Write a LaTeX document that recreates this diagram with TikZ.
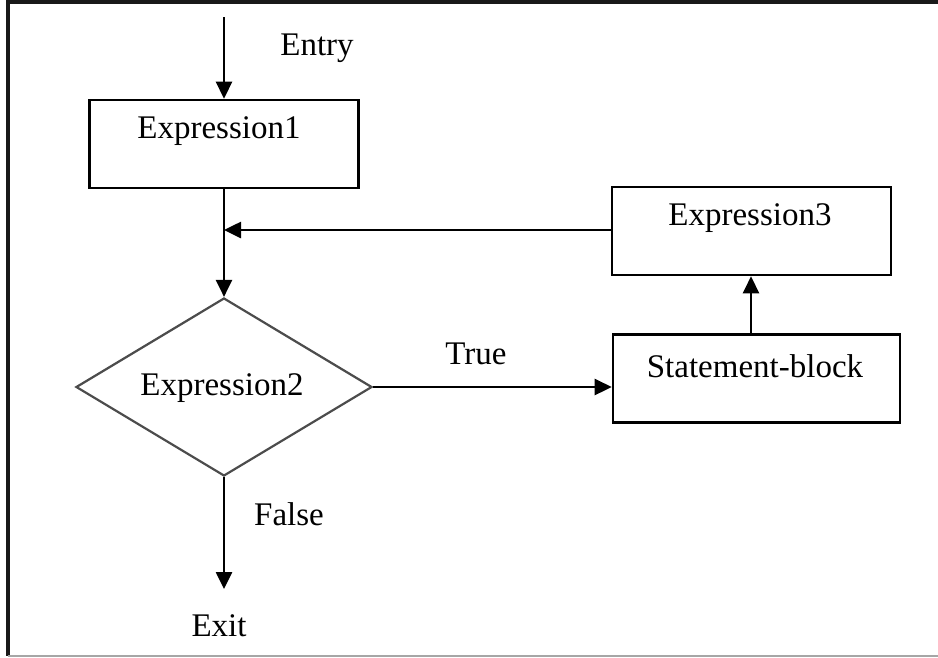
\documentclass[tikz,border=0pt]{standalone}
\usepackage{fontspec}
\setmainfont{Liberation Serif}
\usetikzlibrary{arrows.meta,shapes.geometric}
\begin{document}
\begin{tikzpicture}[x=1pt,y=-1pt,
  box/.style={draw=black,line width=2.6pt,rectangle,minimum width=#1,minimum height=88pt,inner sep=0pt},
  box/.default=270pt,
  lbl/.style={font=\fontsize{33}{38}\selectfont,inner sep=0pt},
  decision/.style={draw=black!70,line width=2.2pt,diamond,aspect=1.66,minimum width=296pt,minimum height=178pt,inner sep=0pt},
  flow/.style={line width=2.6pt,-{Triangle[length=17pt,width=16pt]}},
  frame/.style={line width=3.5pt,draw=black!90}]
\useasboundingbox (0,0) rectangle (938,657);
% outer frame
\draw[frame] (938,2) -- (8,2) -- (8,656);
\draw[line width=2pt,draw=black!35] (8,656) -- (938,656);

% nodes
\coordinate (start) at (224,17);
\node[box=269pt] (e1) at (224,144) {};
\node[lbl] at (219,131) {Expression1};
\node[decision] (e2) at (224,387) {};
\node[lbl] at (222,388) {Expression2};
\node[box=287pt] (sb) at (756.5,378.5) {};
\node[lbl] at (755,366) {Statement-block};
\node[box=279pt] (e3) at (751.5,231) {};
\node[lbl] at (750,218) {Expression3};
\coordinate (join) at (224,230);
\coordinate (exit) at (224,589);
\coordinate (up) at (751,0);

% labels
\node[lbl] (entry) at (317,48) {Entry};
\node[lbl] (true) at (476,354) {True};
\node[lbl] (false) at (289,514) {False};
\node[lbl] (exitl) at (219,626) {Exit};

% connectors
\draw[flow] (start) -- (e1.north);
\draw[line width=2.6pt] (e1.south) -- (join);
\draw[flow] (join) -- (e2.north);
\draw[flow] (e3.west |- join) -- (join);
\draw[flow] (e2.east) -- (sb.west |- e2.east);
\draw[flow] (up |- sb.north) -- (up |- e3.south);
\draw[flow] (e2.south) -- (exit);
\end{tikzpicture}
\end{document}
